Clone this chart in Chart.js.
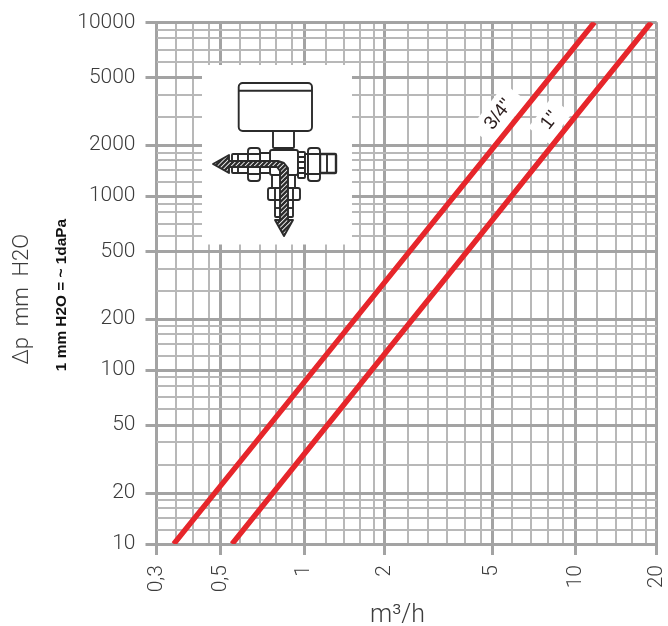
<!DOCTYPE html>
<html>
<head>
<meta charset="utf-8">
<style>html,body{margin:0;padding:0;background:#fff}canvas{display:block}</style>
<script src="https://cdn.jsdelivr.net/npm/chart.js@4/dist/chart.umd.min.js"></script>
</head>
<body>
<canvas id="c" width="668" height="626"></canvas>
<script>
// Axis ticks
const xMajorTicks = [0.3, 0.5, 1, 2, 5, 10, 20];
const xMajorLabels = ['0,3', '0,5', '1', '2', '5', '10', '20'];
const xMinorTicks = [0.35, 0.4, 0.45, 0.6, 0.7, 0.8, 0.9, 1.2, 1.4, 1.6, 1.8, 2.5, 3, 3.5, 4, 4.5, 6, 7, 8, 9, 12, 14, 16, 18];
const yMajorTicks = [10, 20, 50, 100, 200, 500, 1000, 2000, 5000, 10000];
const yMinorTicks = [12, 14, 16, 18, 30, 40, 60, 70, 80, 90, 120, 140, 160, 180, 300, 400, 600, 700, 800, 900, 1200, 1400, 1600, 1800, 3000, 4000, 6000, 7000, 8000, 9000];

// Series
const flowThreeQuarter = [0.345, 0.5, 1, 2, 5, 10, 11.7];
const dropThreeQuarter = [10, 22.1, 83.9, 337.5, 1888, 7337, 10000];
const flowOneInch = [0.556, 1, 2, 5, 10, 19];
const dropOneInch = [10, 34.4, 124, 725, 3050, 10000];
const seriesNames = ['3/4"', '1"'];

// The printed log paper is slightly uneven: mantissa -> fraction of a decade
const xPaperMantissa = [1, 1.2, 1.4, 1.6, 1.8, 2, 2.5, 3, 3.5, 4, 4.5, 5, 6, 7, 8, 9, 10];
const xPaperFraction = [0, .08, .147, .206, .257, .298, .381, .457, .527, .591, .650, .692, .766, .837, .897, .954, 1];
const yPaperMantissa = [1, 1.2, 1.4, 1.6, 1.8, 2, 3, 4, 5, 6, 7, 8, 9, 10];
const yPaperFraction = [0, .081, .148, .207, .251, .293, .454, .584, .683, .774, .843, .91, .958, 1];

function paperPos(v, m, f) {
  const l = Math.log10(v);
  let d = Math.floor(l + 1e-9);
  const a = v / Math.pow(10, d);
  for (let i = 0; i < m.length - 1; i++) {
    if (a <= m[i + 1] + 1e-9) {
      const t = (Math.log10(a) - Math.log10(m[i])) / (Math.log10(m[i + 1]) - Math.log10(m[i]));
      return d + f[i] + t * (f[i + 1] - f[i]);
    }
  }
  return d + 1;
}
function paperVal(p, m, f) {
  const d = Math.floor(p), r = p - d;
  for (let i = 0; i < f.length - 1; i++) {
    if (r <= f[i + 1]) {
      const t = (r - f[i]) / (f[i + 1] - f[i]);
      return Math.pow(10, d + Math.log10(m[i]) + t * (Math.log10(m[i + 1]) - Math.log10(m[i])));
    }
  }
  return Math.pow(10, d + 1);
}
class PaperLog extends Chart.LogarithmicScale {
  _t() { return this.axis === 'x' ? [xPaperMantissa, xPaperFraction] : [yPaperMantissa, yPaperFraction]; }
  getPixelForValue(v) {
    const [m, f] = this._t();
    const a = paperPos(this.min, m, f), b = paperPos(this.max, m, f);
    return this.getPixelForDecimal((paperPos(v, m, f) - a) / (b - a));
  }
  getValueForPixel(px) {
    const [m, f] = this._t();
    const a = paperPos(this.min, m, f), b = paperPos(this.max, m, f);
    return paperVal(a + this.getDecimalForPixel(px) * (b - a), m, f);
  }
}
PaperLog.id = 'paperLog';
PaperLog.defaults = Chart.LogarithmicScale.defaults;
Chart.register(PaperLog);

const INK = '#2b2b2b';
const TICKFONT = 'Roboto';

function box(ctx, x, y, w, h, r) {
  ctx.beginPath();
  ctx.roundRect(x, y, w, h, r || 1);
  ctx.fillStyle = '#fff';
  ctx.fill();
  ctx.stroke();
}
function hatched(ctx, pts) {
  const shape = new Path2D();
  pts.forEach((p, i) => i ? shape.lineTo(p[0], p[1]) : shape.moveTo(p[0], p[1]));
  shape.closePath();
  ctx.save();
  ctx.fillStyle = '#fff';
  ctx.fill(shape);
  ctx.save();
  ctx.clip(shape);
  ctx.lineWidth = 2.4;
  ctx.beginPath();
  for (let k = 150; k < 560; k += 4.6) { ctx.moveTo(k, 130); ctx.lineTo(k - 110, 240); }
  ctx.stroke();
  ctx.restore();
  ctx.lineWidth = 1.9;
  ctx.stroke(shape);
  ctx.restore();
}
const inset = {
  id: 'inset',
  beforeDatasetsDraw(chart) {
    const ctx = chart.ctx;
    ctx.save();
    // valve picture
    ctx.fillStyle = '#fff';
    ctx.fillRect(202, 65, 150, 179.5);
    ctx.strokeStyle = INK;
    ctx.lineWidth = 1.9;
    ctx.lineJoin = 'round';
    box(ctx, 238.7, 83, 73.3, 48, 4);
    ctx.beginPath(); ctx.moveTo(238.7, 90.7); ctx.lineTo(312, 90.7); ctx.stroke();
    box(ctx, 273, 131, 21, 17, 1);
    // body and lower branch
    box(ctx, 272, 172, 23, 17, 1);
    box(ctx, 270, 150, 28, 25, 2);
    // left branch
    box(ctx, 232, 154, 16, 19, 1);
    ctx.beginPath(); ctx.moveTo(238, 154); ctx.lineTo(238, 173); ctx.stroke();
    box(ctx, 260, 153, 10, 20, 1);
    box(ctx, 248, 148, 12, 33, 3);
    ctx.beginPath(); ctx.moveTo(248, 154); ctx.lineTo(260, 154); ctx.moveTo(248, 174); ctx.lineTo(260, 174); ctx.stroke();
    // right branch
    box(ctx, 298, 152, 7, 26, 1);
    ctx.beginPath(); ctx.moveTo(298, 157); ctx.lineTo(305, 157); ctx.moveTo(298, 162); ctx.lineTo(305, 162);
    ctx.moveTo(298, 168); ctx.lineTo(305, 168); ctx.moveTo(298, 173); ctx.lineTo(305, 173); ctx.stroke();
    box(ctx, 305, 154, 3, 20, 0);
    ctx.lineWidth = 2.4; box(ctx, 320, 154, 16, 19, 1); ctx.lineWidth = 1.9;
    ctx.beginPath(); ctx.moveTo(327, 155); ctx.lineTo(327, 172); ctx.stroke();
    box(ctx, 308, 148, 12, 33, 3);
    ctx.beginPath(); ctx.moveTo(308, 154); ctx.lineTo(320, 154); ctx.moveTo(308, 174); ctx.lineTo(320, 174); ctx.stroke();
    // lower nut and tail
    box(ctx, 275, 199, 18, 18, 1);
    ctx.beginPath(); ctx.moveTo(275, 208); ctx.lineTo(293, 208); ctx.stroke();
    box(ctx, 268, 188, 32, 12, 2);
    ctx.beginPath(); ctx.moveTo(275, 188); ctx.lineTo(275, 200); ctx.moveTo(293, 188); ctx.lineTo(293, 200); ctx.stroke();
    // flow arrow through the valve
    hatched(ctx, [[213, 164], [229, 155], [229, 161], [278, 161], [284, 163], [288, 168], [288, 220], [293, 220], [284, 236], [275, 220], [280, 220], [280, 171], [277, 167], [229, 167], [229, 173]]);
    // size labels on the curves
    const labels = [
      { t: seriesNames[0], x: 498.5, y: 114.5, hw: 28, hh: 14 },
      { t: seriesNames[1], x: 550, y: 120.5, hw: 19, hh: 13 }
    ];
    labels.forEach(l => {
      ctx.save();
      ctx.translate(l.x, l.y);
      ctx.rotate(-52 * Math.PI / 180);
      ctx.fillStyle = '#fff';
      ctx.fillRect(-l.hw, -l.hh, 2 * l.hw, 2 * l.hh);
      ctx.fillStyle = '#2a1c1c';
      ctx.font = '19px "Liberation Sans"';
      ctx.textAlign = 'center';
      ctx.textBaseline = 'middle';
      ctx.fillText(l.t, 0, 0);
      ctx.restore();
    });
    // unit note
    ctx.translate(62, 295);
    ctx.rotate(-Math.PI / 2);
    ctx.fillStyle = '#111';
    ctx.font = 'bold 15.4px "Liberation Sans"';
    ctx.textAlign = 'center';
    ctx.textBaseline = 'middle';
    ctx.fillText('1 mm H2O = ~ 1daPa', 0, 0);
    ctx.restore();
  }
};

const GRID_MAJOR = '#a3a3a3', GRID_MINOR = '#b8b8b8';
const isMajor = (list, c) => list.includes(c.tick.value);

new Chart(document.getElementById('c'), {
  type: 'line',
  data: {
    datasets: [
      { label: seriesNames[0], data: flowThreeQuarter.map((x, i) => ({ x, y: dropThreeQuarter[i] })) },
      { label: seriesNames[1], data: flowOneInch.map((x, i) => ({ x, y: dropOneInch[i] })) }
    ]
  },
  options: {
    responsive: false,
    animation: false,
    layout: { padding: { top: 22.3, right: 11.3 } },
    elements: {
      point: { radius: 0 },
      line: { borderColor: '#e6262b', borderWidth: 5.4, tension: 0, borderCapStyle: 'butt' }
    },
    plugins: { legend: { display: false }, tooltip: { enabled: false } },
    scales: {
      x: {
        type: 'paperLog',
        min: 0.3,
        max: 20,
        afterFit(s) { s.height = 82; s.paddingLeft = 0; s.paddingRight = 0; },
        afterBuildTicks(s) { s.ticks = xMajorTicks.concat(xMinorTicks).map(value => ({ value })); },
        border: { display: false },
        grid: {
          color: c => isMajor(xMajorTicks, c) ? GRID_MAJOR : GRID_MINOR,
          lineWidth: c => isMajor(xMajorTicks, c) ? 3 : 2,
          tickColor: c => isMajor(xMajorTicks, c) ? GRID_MAJOR : 'rgba(0,0,0,0)',
          tickWidth: 3,
          tickLength: 11
        },
        ticks: {
          autoSkip: false,
          minRotation: 90,
          maxRotation: 90,
          padding: 10,
          color: '#3c3c3c',
          font: { family: TICKFONT, size: 21, weight: '300' },
          callback: v => { const i = xMajorTicks.indexOf(v); return i < 0 ? '' : xMajorLabels[i]; }
        },
        title: {
          display: true,
          text: 'm³/h   ',
          color: '#3c3c3c',
          font: { family: TICKFONT, size: 25, weight: '300' },
          padding: { top: 0, bottom: -5 }
        }
      },
      y: {
        type: 'paperLog',
        min: 10,
        max: 10000,
        afterFit(s) { s.width = 156.5; s.paddingTop = 0; s.paddingBottom = 0; },
        afterBuildTicks(s) { s.ticks = yMajorTicks.concat(yMinorTicks).map(value => ({ value })); },
        border: { display: false },
        grid: {
          color: c => isMajor(yMajorTicks, c) ? GRID_MAJOR : GRID_MINOR,
          lineWidth: c => isMajor(yMajorTicks, c) ? 3 : 2,
          tickColor: c => isMajor(yMajorTicks, c) ? GRID_MAJOR : 'rgba(0,0,0,0)',
          tickWidth: 3,
          tickLength: 11
        },
        ticks: {
          autoSkip: false,
          padding: 10,
          color: '#3c3c3c',
          font: { family: TICKFONT, size: 21, weight: '300' },
          callback: v => yMajorTicks.includes(v) ? String(v) : ''
        },
        title: {
          display: true,
          text: 'Δp  mm  H2O      ',
          color: '#3c3c3c',
          font: { family: TICKFONT, size: 22, weight: '300' },
          padding: { top: 9, bottom: 0 }
        }
      }
    }
  },
  plugins: [inset]
});
</script>
</body>
</html>
